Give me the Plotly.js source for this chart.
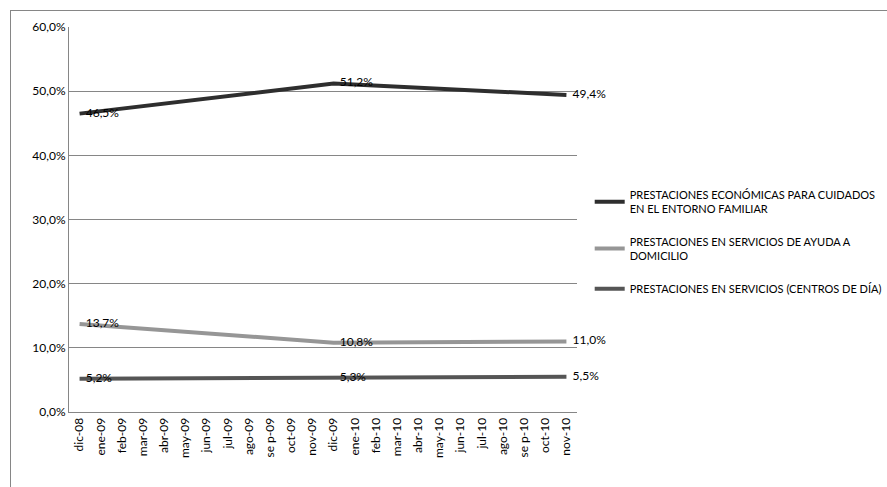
<!DOCTYPE html>
<html><head><meta charset="utf-8">
<script src="https://cdn.plot.ly/plotly-3.0.1.min.js"></script>
<style>html,body{margin:0;padding:0;background:#fff;overflow:hidden}
#frame{position:absolute;left:10px;top:10px;width:880px;height:490px;border:1px solid #868686;box-sizing:border-box;pointer-events:none}
</style></head>
<body><div id="chart" style="width:887px;height:487px"></div><div id="frame"></div>
<script>
const months = ["dic-08","ene-09","feb-09","mar-09","abr-09","may-09","jun-09","jul-09","ago-09","sep-09","oct-09","nov-09","dic-09","ene-10","feb-10","mar-10","abr-10","may-10","jun-10","jul-10","ago-10","sep-10","oct-10","nov-10"];
const labelsShown = ["dic-08","ene-09","feb-09","mar-09","abr-09","may-09","jun-09","jul-09","ago-09","se p-09","oct-09","nov-09","dic-09","ene-10","feb-10","mar-10","abr-10","may-10","jun-10","jul-10","ago-10","se p-10","oct-10","nov-10"];
const dataMonths = ["dic-08","dic-09","nov-10"];
const economicas = [46.5, 51.2, 49.4];
const ayudaDomicilio = [13.7, 10.8, 11.0];
const centrosDia = [5.2, 5.3, 5.5];
const names = ["PRESTACIONES ECONÓMICAS PARA CUIDADOS<br>EN EL ENTORNO FAMILIAR","PRESTACIONES EN SERVICIOS DE AYUDA A<br>DOMICILIO","PRESTACIONES EN SERVICIOS (CENTROS DE DÍA)"];
const colors = ["#2e2e2e","#969696","#555555"];
const FONT = "Lato, sans-serif";
const series = [economicas, ayudaDomicilio, centrosDia];
const traces = series.map((s,i)=>({
  type:"scatter", mode:"lines+text", x:dataMonths, y:s, name:names[i], legendgroup:"g"+i,
  line:{color:colors[i], width:4},
  texttemplate:"\u00a0\u00a0%{y:.1f}%", textposition:"middle right",
  textfont:{family:FONT,size:12,color:"#000"}, cliponaxis:false
}));
const layout = {
  width:887, height:487, separators:",.",
  margin:{l:69,r:310,t:27,b:75,autoexpand:false},
  paper_bgcolor:"#fff", plot_bgcolor:"#fff",
  font:{family:FONT,size:12,color:"#000"},
  showlegend:true,
  legend:{x:1.025,y:0.6,xanchor:"left",yanchor:"top",font:{family:FONT,size:11,color:"#000"},tracegroupgap:15,itemwidth:30},
  xaxis:{type:"category",categoryorder:"array",categoryarray:months,range:[-0.5,23.5],
    tickvals:months, ticktext:labelsShown, tickangle:-90, showgrid:false,
    showline:true, linecolor:"#868686", ticks:"", tickfont:{family:FONT,size:12}},
  yaxis:{range:[0,60],dtick:10,tickformat:".1f",ticksuffix:"%",showgrid:true,gridcolor:"#868686",
    showline:true,linecolor:"#868686",zeroline:false,ticks:"",tickfont:{family:FONT,size:12}}
};
Plotly.newPlot("chart", traces, layout, {displayModeBar:false});
</script></body></html>
